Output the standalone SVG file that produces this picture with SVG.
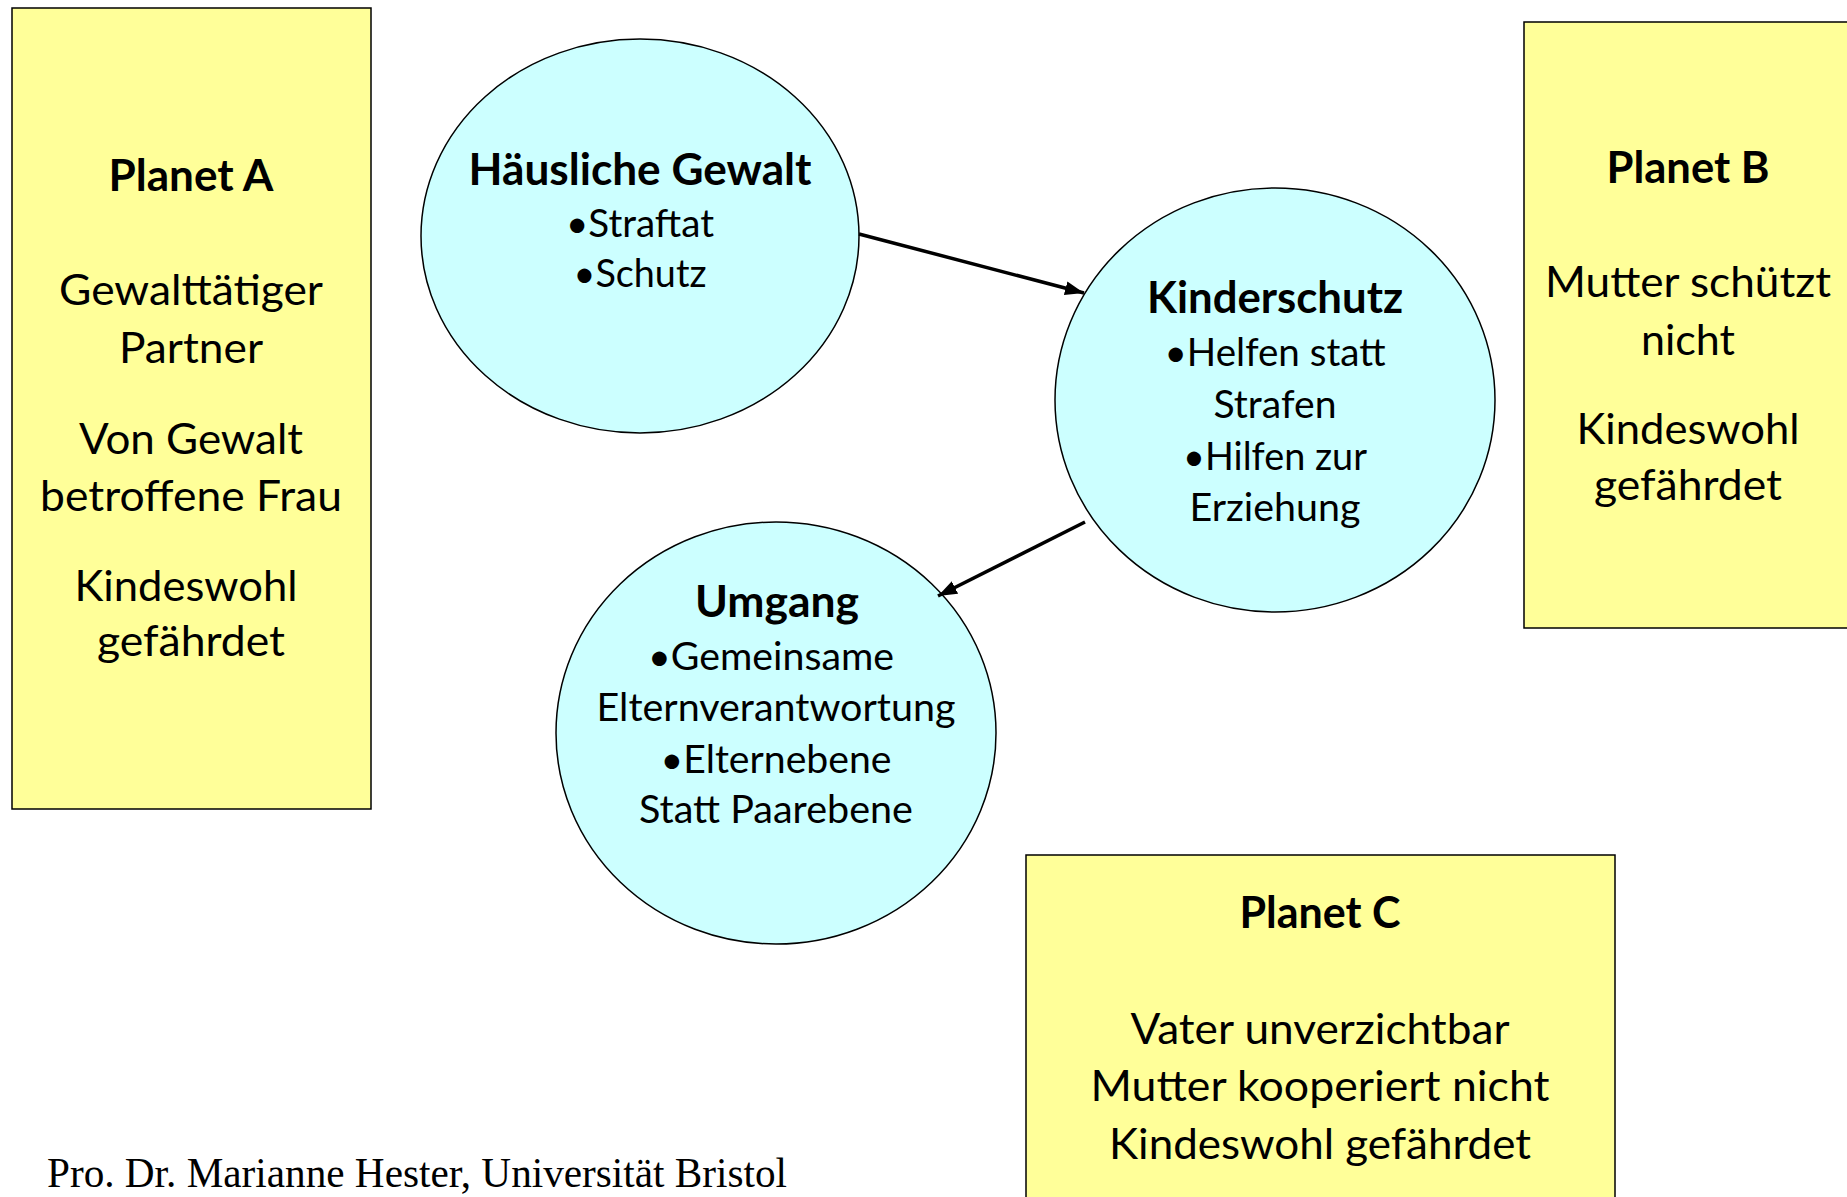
<svg xmlns="http://www.w3.org/2000/svg" width="1847" height="1197" viewBox="0 0 1847 1197">
<defs>
<style>
.box{fill:#FFFF99;stroke:#000;stroke-width:1.5}
.circ{fill:#CCFFFF;stroke:#000;stroke-width:1.5}
.t{font-family:Lato,"Open Sans","DejaVu Sans",sans-serif;fill:#000;text-anchor:middle}
.big{font-size:43px}
.mid{font-size:38px}
.b{font-weight:bold;font-size:43px}
.conn{stroke:#000;stroke-width:3.5;fill:none}
.foot{font-family:"Liberation Serif","Times New Roman",serif;font-size:42px;fill:#000}
</style>
<marker id="ah" markerUnits="userSpaceOnUse" markerWidth="22" markerHeight="16" refX="19" refY="7" orient="auto">
<path d="M0,0 L19,7 L0,14 Z" fill="#000"/>
</marker>
</defs>
<rect width="1847" height="1197" fill="#fff"/>

<g id="planet-a">
<rect class="box" x="12" y="8" width="359" height="801"/>
<text class="t b" x="191" y="191" textLength="165" lengthAdjust="spacingAndGlyphs">Planet A</text>
<text class="t big" x="191" y="305" textLength="264" lengthAdjust="spacingAndGlyphs">Gewalttätiger</text>
<text class="t big" x="191" y="363" textLength="144" lengthAdjust="spacingAndGlyphs">Partner</text>
<text class="t big" x="191" y="454" textLength="224" lengthAdjust="spacingAndGlyphs">Von Gewalt</text>
<text class="t big" x="191" y="511" textLength="302" lengthAdjust="spacingAndGlyphs">betroffene Frau</text>
<text class="t big" x="186" y="601" textLength="223" lengthAdjust="spacingAndGlyphs">Kindeswohl</text>
<text class="t big" x="191" y="656" textLength="188" lengthAdjust="spacingAndGlyphs">gefährdet</text>
</g>

<g id="haeusliche-gewalt">
<ellipse class="circ" cx="640" cy="236" rx="219" ry="197"/>
<text class="t b" x="640" y="185" textLength="343" lengthAdjust="spacingAndGlyphs">Häusliche Gewalt</text>
<text class="t mid" x="640" y="237" textLength="148" lengthAdjust="spacingAndGlyphs">•Straftat</text>
<text class="t mid" x="640" y="287" textLength="133" lengthAdjust="spacingAndGlyphs">•Schutz</text>
</g>

<g id="kinderschutz">
<ellipse class="circ" cx="1275" cy="400" rx="220" ry="212"/>
<text class="t b" x="1275" y="313" textLength="256" lengthAdjust="spacingAndGlyphs">Kinderschutz</text>
<text class="t mid" x="1275" y="366" textLength="221" lengthAdjust="spacingAndGlyphs">•Helfen statt</text>
<text class="t mid" x="1275" y="418" textLength="123" lengthAdjust="spacingAndGlyphs">Strafen</text>
<text class="t mid" x="1275" y="470" textLength="184" lengthAdjust="spacingAndGlyphs">•Hilfen zur</text>
<text class="t mid" x="1275" y="521" textLength="171" lengthAdjust="spacingAndGlyphs">Erziehung</text>
</g>

<g id="umgang">
<ellipse class="circ" cx="776" cy="733" rx="220" ry="211"/>
<text class="t b" x="777" y="617" textLength="164" lengthAdjust="spacingAndGlyphs">Umgang</text>
<text class="t mid" x="771" y="670" textLength="246" lengthAdjust="spacingAndGlyphs">•Gemeinsame</text>
<text class="t mid" x="776" y="721" textLength="359" lengthAdjust="spacingAndGlyphs">Elternverantwortung</text>
<text class="t mid" x="776" y="773" textLength="231" lengthAdjust="spacingAndGlyphs">•Elternebene</text>
<text class="t mid" x="776" y="823" textLength="274" lengthAdjust="spacingAndGlyphs">Statt Paarebene</text>
</g>

<g id="planet-b">
<rect class="box" x="1524" y="22" width="340" height="606"/>
<text class="t b" x="1688" y="183" textLength="163" lengthAdjust="spacingAndGlyphs">Planet B</text>
<text class="t big" x="1688" y="297" textLength="286" lengthAdjust="spacingAndGlyphs">Mutter schützt</text>
<text class="t big" x="1688" y="355" textLength="94" lengthAdjust="spacingAndGlyphs">nicht</text>
<text class="t big" x="1688" y="444" textLength="223" lengthAdjust="spacingAndGlyphs">Kindeswohl</text>
<text class="t big" x="1688" y="500" textLength="188" lengthAdjust="spacingAndGlyphs">gefährdet</text>
</g>

<g id="planet-c">
<rect class="box" x="1026" y="855" width="589" height="360"/>
<text class="t b" x="1320" y="928" textLength="161" lengthAdjust="spacingAndGlyphs">Planet C</text>
<text class="t big" x="1320" y="1044" textLength="379" lengthAdjust="spacingAndGlyphs">Vater unverzichtbar</text>
<text class="t big" x="1320" y="1101" textLength="459" lengthAdjust="spacingAndGlyphs">Mutter kooperiert nicht</text>
<text class="t big" x="1320" y="1159" textLength="422" lengthAdjust="spacingAndGlyphs">Kindeswohl gefährdet</text>
</g>

<g id="connectors">
<line class="conn" x1="859" y1="234" x2="1084" y2="293" marker-end="url(#ah)"/>
<line class="conn" x1="1085" y1="522" x2="938" y2="596" marker-end="url(#ah)"/>
</g>

<g id="footer">
<text class="foot" x="47" y="1187" textLength="740" lengthAdjust="spacingAndGlyphs">Pro. Dr. Marianne Hester, Universität Bristol</text>
</g>
</svg>
